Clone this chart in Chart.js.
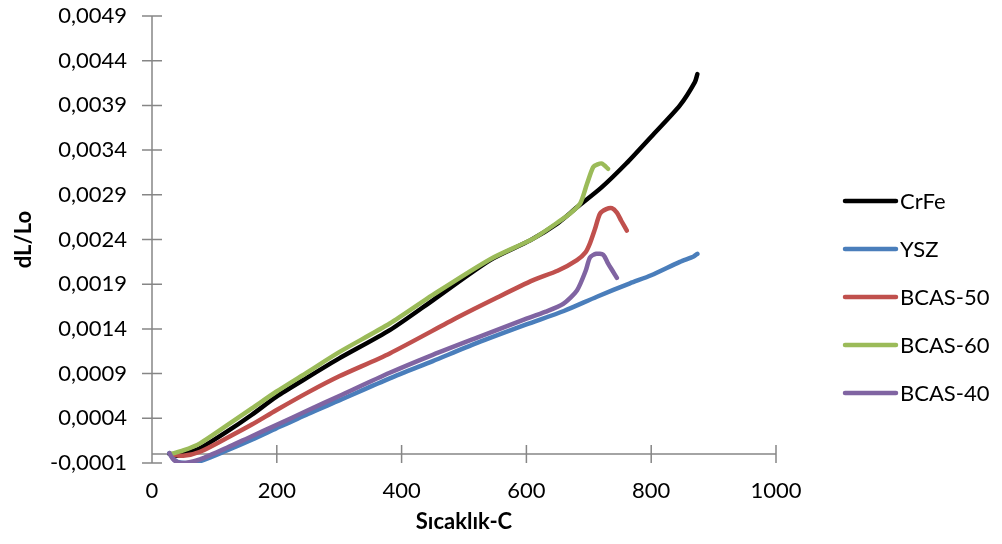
<!DOCTYPE html>
<html>
<head>
<meta charset="utf-8">
<script src="https://cdn.jsdelivr.net/npm/chart.js@4.4.1/dist/chart.umd.min.js"></script>
<style>
  html, body { margin: 0; padding: 0; background: #fff; }
  #wrap { width: 1002px; height: 544px; }
</style>
</head>
<body>
<div id="wrap"><canvas id="dilatChart" width="1002" height="544"></canvas></div>
<script>
// Dilatometer curves: temperature (C) vs dL/Lo
const crfeT = [28, 40, 60, 77, 120, 160, 199, 250, 300, 381, 450, 542, 606, 650, 681, 720, 760, 800, 846, 870, 874];
const crfeV = [0, -0.00002, 0.00002, 0.000064, 0.00025, 0.00044, 0.00064, 0.00086, 0.00107, 0.001386, 0.00172, 0.00217, 0.00239, 0.00258, 0.00276, 0.00298, 0.00325, 0.00355, 0.0039, 0.00416, 0.00425];

const yszT = [28, 34, 42, 55, 77, 120, 160, 199, 250, 300, 381, 450, 520, 600, 660, 713, 766, 800, 846, 868, 874];
const yszV = [0.00001, -0.00005, -0.00009, -0.0001, -0.00008, 0.00004, 0.00016, 0.000287, 0.00045, 0.0006, 0.000846, 0.00104, 0.00124, 0.00145, 0.0016, 0.00176, 0.00191, 0.002, 0.00215, 0.00221, 0.00224];

const bcas50T = [30, 50, 77, 120, 160, 199, 250, 300, 381, 490, 550, 611, 650, 681, 695, 702, 710, 718, 728, 737, 745, 752, 761];
const bcas50V = [0, -0.00002, 0.000026, 0.00018, 0.00033, 0.00049, 0.00069, 0.00087, 0.001126, 0.00153, 0.00174, 0.001945, 0.00205, 0.00217, 0.00226, 0.00236, 0.00252, 0.00269, 0.00274, 0.00275, 0.0027, 0.00261, 0.0025];

const bcas60T = [30, 50, 77, 120, 160, 199, 250, 300, 381, 450, 542, 611, 650, 670, 686, 697, 707, 714, 721, 731];
const bcas60V = [0, 0.00004, 0.00012, 0.00032, 0.00051, 0.000697, 0.00092, 0.00114, 0.00146, 0.00178, 0.00218, 0.00241, 0.00259, 0.00269, 0.0028, 0.00302, 0.00321, 0.00324, 0.00325, 0.00319];

const bcas40T = [28, 33, 40, 48, 60, 77, 120, 160, 199, 250, 300, 381, 450, 520, 595, 630, 659, 681, 695, 702, 712, 723, 731, 738, 745];
const bcas40V = [0.00001, -0.00005, -0.00009, -0.0001, -0.00009, -0.00006, 0.00007, 0.0002, 0.000324, 0.00049, 0.00065, 0.000909, 0.00111, 0.0013, 0.0015, 0.00159, 0.00168, 0.00183, 0.00205, 0.0022, 0.00224, 0.00223, 0.00213, 0.00205, 0.00197];

const seriesNames = ['CrFe', 'YSZ', 'BCAS-50', 'BCAS-60', 'BCAS-40'];
const seriesColors = ['#000000', '#4a7ebb', '#c0504d', '#9bbb59', '#8064a2'];

const yTickValues = [-0.0001, 0.0004, 0.0009, 0.0014, 0.0019, 0.0024, 0.0029, 0.0034, 0.0039, 0.0044, 0.0049];
const xTickValues = [0, 200, 400, 600, 800, 1000];

const fontFamily = "Lato, 'Open Sans', sans-serif";

function toPoints(ts, vs) {
  return ts.map((t, i) => ({ x: t, y: vs[i] }));
}

const allT = [crfeT, yszT, bcas50T, bcas60T, bcas40T];
const allV = [crfeV, yszV, bcas50V, bcas60V, bcas40V];

// Excel draws later series on top
const datasets = seriesNames.map((name, i) => ({
  label: name,
  data: toPoints(allT[i], allV[i]),
  borderColor: seriesColors[i],
  backgroundColor: seriesColors[i],
  borderWidth: 4.5,
  pointRadius: 0,
  tension: 0.25,
  borderCapStyle: 'round',
  borderJoinStyle: 'round',
  order: seriesNames.length - i
}));

// axis lines with crossing tick marks, x axis crosses at y = 0
const axisLines = {
  id: 'axisLines',
  beforeDatasetsDraw(chart) {
    const { ctx, chartArea, scales: { x, y } } = chart;
    const zeroY = y.getPixelForValue(0);
    ctx.save();
    ctx.strokeStyle = '#868686';
    ctx.lineWidth = 1.5;
    ctx.beginPath();
    ctx.moveTo(chartArea.left, chartArea.top);
    ctx.lineTo(chartArea.left, chartArea.bottom);
    y.ticks.forEach(t => {
      const py = y.getPixelForValue(t.value);
      ctx.moveTo(chartArea.left - 10, py);
      ctx.lineTo(chartArea.left + 10, py);
    });
    ctx.moveTo(chartArea.left, zeroY);
    ctx.lineTo(chartArea.right, zeroY);
    x.ticks.forEach(t => {
      if (t.value === 0) return;
      const px = x.getPixelForValue(t.value);
      ctx.moveTo(px, zeroY - 9);
      ctx.lineTo(px, zeroY + 9);
    });
    ctx.stroke();
    ctx.restore();
  }
};

// legend on the right, like the Excel one
const sideLegend = {
  id: 'sideLegend',
  afterDraw(chart) {
    const ctx = chart.ctx;
    ctx.save();
    ctx.font = '22px ' + fontFamily;
    ctx.textBaseline = 'middle';
    ctx.fillStyle = '#000';
    chart.data.datasets.forEach((ds, i) => {
      const cy = 201 + i * 48;
      ctx.strokeStyle = ds.borderColor;
      ctx.lineWidth = 4.5;
      ctx.lineCap = 'round';
      ctx.beginPath();
      ctx.moveTo(845, cy);
      ctx.lineTo(896, cy);
      ctx.stroke();
      ctx.fillText(ds.label, 900, cy + 1);
    });
    ctx.restore();
  }
};

const ctx = document.getElementById('dilatChart').getContext('2d');

new Chart(ctx, {
  type: 'line',
  data: { datasets: datasets },
  plugins: [axisLines, sideLegend],
  options: {
    responsive: false,
    animation: false,
    layout: { padding: { top: 16, right: 226, bottom: 0, left: 0 } },
    plugins: {
      legend: { display: false },
      tooltip: { enabled: false }
    },
    scales: {
      x: {
        type: 'linear',
        min: 0,
        max: 1000,
        afterBuildTicks: s => { s.ticks = xTickValues.map(v => ({ value: v })); },
        afterFit: s => { s.height = 81; },
        grid: { display: false, drawTicks: false },
        border: { display: false },
        ticks: {
          padding: 15,
          color: '#000',
          font: { family: fontFamily, size: 22, lineHeight: 1.2 },
          maxRotation: 0,
          callback: v => String(v)
        },
        title: {
          display: true,
          text: 'Sıcaklık-C',
          color: '#000',
          font: { family: fontFamily, size: 22, weight: 'bold', lineHeight: 1.2 },
          padding: { top: 0, bottom: 9 }
        }
      },
      y: {
        type: 'linear',
        min: -0.0001,
        max: 0.0049,
        afterBuildTicks: s => { s.ticks = yTickValues.map(v => ({ value: v })); },
        afterFit: s => {
          s.width = 152;
          // tick padding would otherwise push the plot top down
          s.paddingTop = 0;
          s.paddingBottom = 0;
        },
        grid: { display: false, drawTicks: false },
        border: { display: false },
        ticks: {
          padding: 25,
          color: '#000',
          font: { family: fontFamily, size: 22, lineHeight: 1.2 },
          callback: v => v.toFixed(4).replace('.', ',')
        },
        title: {
          display: true,
          text: 'dL/Lo',
          color: '#000',
          font: { family: fontFamily, size: 22, weight: 'bold', lineHeight: 1.2 },
          padding: { top: 11, bottom: 0 }
        }
      }
    }
  }
});
</script>
</body>
</html>
